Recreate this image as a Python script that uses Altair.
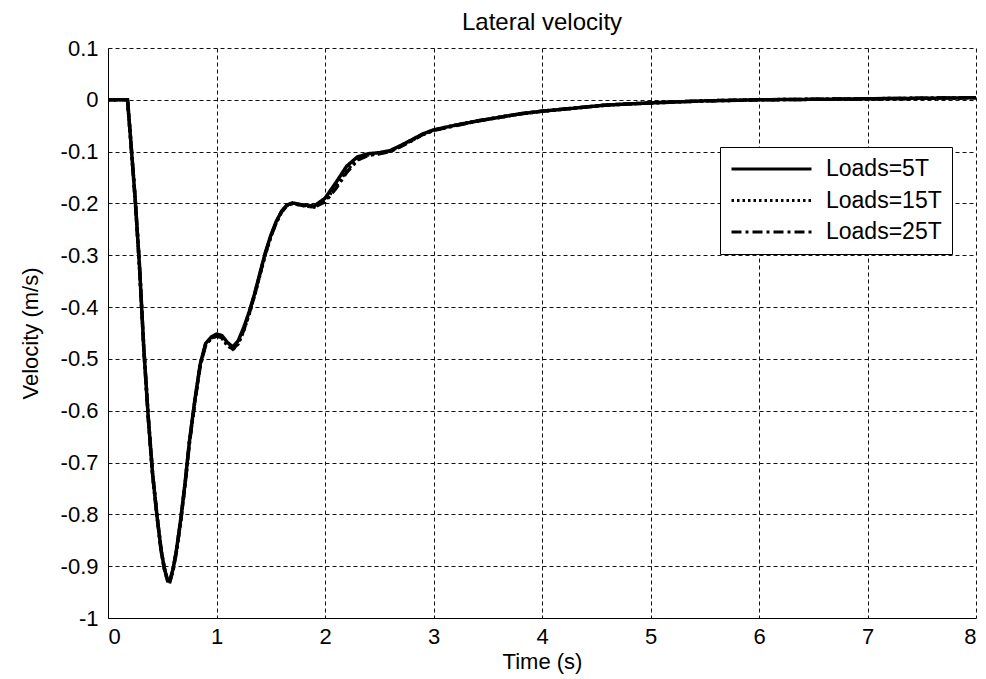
import altair as alt
import pandas as pd

# Time samples (s)
time = [0.0, 0.18, 0.21, 0.25, 0.29, 0.33, 0.37, 0.41, 0.45, 0.49, 0.52, 0.55, 0.57,
        0.60, 0.63, 0.67, 0.71, 0.75, 0.80, 0.85, 0.90, 0.95, 1.00, 1.05, 1.10, 1.15,
        1.20, 1.25, 1.30, 1.35, 1.40, 1.45, 1.50, 1.55, 1.60, 1.65, 1.70, 1.80, 1.90,
        2.00, 2.10, 2.20, 2.30, 2.40, 2.50, 2.60, 2.70, 2.80, 2.90, 3.00, 3.20, 3.40,
        3.60, 3.80, 4.00, 4.30, 4.60, 5.00, 5.50, 6.00, 6.50, 7.00, 7.50, 8.00]

# Lateral velocity (m/s) for each load
v_5t = [0.0, 0.0, -0.08, -0.19, -0.32, -0.48, -0.61, -0.72, -0.80, -0.87, -0.905, -0.928, -0.928,
        -0.905, -0.87, -0.81, -0.74, -0.66, -0.58, -0.51, -0.47, -0.458, -0.452, -0.455, -0.468, -0.477,
        -0.465, -0.44, -0.41, -0.375, -0.335, -0.295, -0.262, -0.235, -0.215, -0.203, -0.199, -0.203, -0.205,
        -0.19, -0.16, -0.128, -0.11, -0.104, -0.102, -0.098, -0.088, -0.077, -0.066, -0.058, -0.049, -0.041,
        -0.034, -0.027, -0.022, -0.016, -0.010, -0.006, -0.002, 0.0, 0.001, 0.002, 0.003, 0.004]

v_15t = [0.0, 0.0, -0.08, -0.19, -0.32, -0.48, -0.61, -0.72, -0.80, -0.87, -0.905, -0.928, -0.929,
         -0.906, -0.872, -0.812, -0.742, -0.662, -0.582, -0.512, -0.472, -0.46, -0.455, -0.46, -0.474, -0.482,
         -0.471, -0.446, -0.414, -0.378, -0.338, -0.298, -0.264, -0.237, -0.216, -0.204, -0.2, -0.204, -0.207,
         -0.195, -0.167, -0.136, -0.114, -0.106, -0.103, -0.099, -0.089, -0.078, -0.067, -0.059, -0.049, -0.041,
         -0.034, -0.027, -0.022, -0.016, -0.010, -0.006, -0.002, 0.0, 0.001, 0.002, 0.003, 0.004]

v_25t = [0.0, 0.0, -0.08, -0.19, -0.32, -0.48, -0.61, -0.72, -0.80, -0.87, -0.905, -0.929, -0.93,
         -0.907, -0.873, -0.813, -0.743, -0.663, -0.583, -0.513, -0.473, -0.461, -0.456, -0.459, -0.472, -0.481,
         -0.47, -0.445, -0.413, -0.377, -0.337, -0.297, -0.264, -0.237, -0.216, -0.204, -0.2, -0.204, -0.207,
         -0.197, -0.171, -0.14, -0.116, -0.107, -0.104, -0.1, -0.09, -0.079, -0.067, -0.059, -0.05, -0.041,
         -0.034, -0.027, -0.022, -0.016, -0.010, -0.006, -0.002, 0.0, 0.001, 0.002, 0.003, 0.004]

series_names = ["Loads=5T", "Loads=15T", "Loads=25T"]
x_ticks = [0, 1, 2, 3, 4, 5, 6, 7, 8]
y_ticks = [-1.0, -0.9, -0.8, -0.7, -0.6, -0.5, -0.4, -0.3, -0.2, -0.1, 0.0, 0.1]

rows = []
# draw order: 25T first, 5T last (on top)
for name, vals in [("Loads=25T", v_25t), ("Loads=15T", v_15t), ("Loads=5T", v_5t)]:
    for t, v in zip(time, vals):
        rows.append({"t": t, "v": v, "series": name})
df = pd.DataFrame(rows)

FONT = "Liberation Sans"

chart = alt.Chart(df).mark_line(stroke="black", strokeWidth=3.5, clip=True).encode(
    x=alt.X("t:Q",
            scale=alt.Scale(domain=[0, 8], nice=False, zero=False),
            axis=alt.Axis(values=x_ticks, title="Time (s)", format="d")),
    y=alt.Y("v:Q",
            scale=alt.Scale(domain=[-1, 0.1], nice=False, zero=False),
            axis=alt.Axis(values=y_ticks, title="Velocity (m/s)",
                          labelExpr="datum.value == 0 ? '0' : toString(round(datum.value*10)/10)")),
    strokeDash=alt.StrokeDash(
        "series:N",
        scale=alt.Scale(domain=series_names, range=[[1, 0], [2.5, 3], [10, 4, 3, 4]]),
        legend=alt.Legend(
            title=None, orient="none", legendX=612, legendY=99,
            fillColor="white", strokeColor="black", padding=10,
            symbolType="stroke", symbolSize=6400, symbolStrokeWidth=3,
            symbolStrokeColor="black", clipHeight=24, rowPadding=7.5,
            labelFont=FONT, labelFontSize=23, labelColor="black", labelOffset=13,
        ),
    ),
    detail="series:N",
).properties(
    width=868, height=570,
    title=alt.TitleParams("Lateral velocity", font=FONT, fontSize=24, fontWeight="normal",
                          color="black", offset=2),
    autosize=alt.AutoSizeParams(type="none"),
    padding={"left": 100, "top": 40, "right": 2, "bottom": 60},
).configure_view(
    stroke=None
).configure_axis(
    grid=True, gridColor="#111", gridDash=[4, 3], gridWidth=1, gridOpacity=1,
    domain=True, domainColor="black", domainWidth=1,
    ticks=False,
    labelFont=FONT, labelFontSize=22, labelColor="black",
    titleFont=FONT, titleFontSize=22, titleFontWeight="normal", titleColor="black",
).configure_axisX(
    labelPadding=8, titlePadding=4,
).configure_axisY(
    labelPadding=10, titlePadding=18,
)

chart.save("out.html", embed_options={"renderer": "svg", "actions": False})
